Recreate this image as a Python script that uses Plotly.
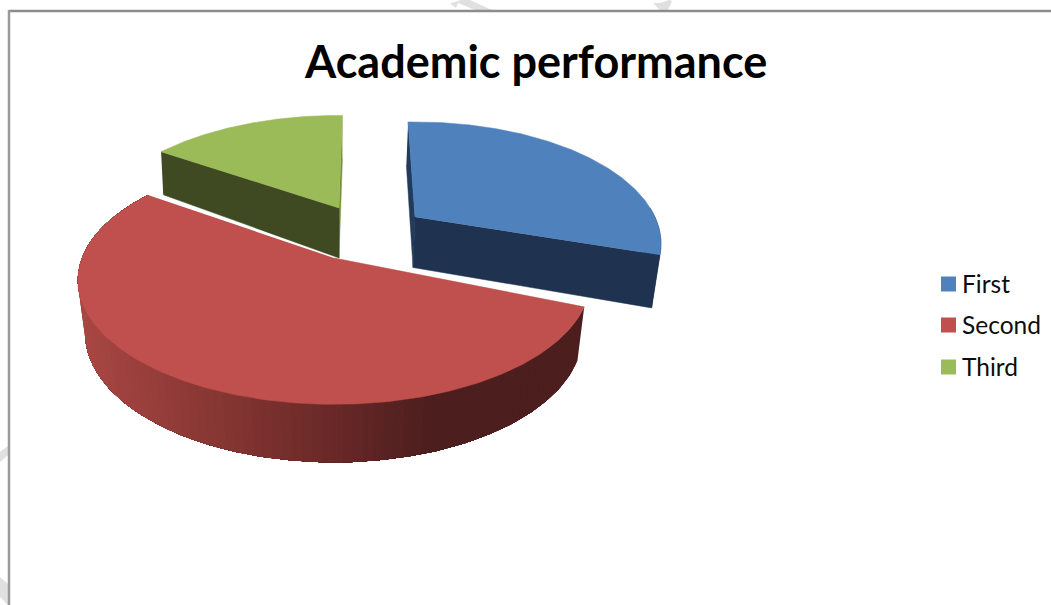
import numpy as np
import plotly.graph_objects as go

# ---- data ----
categories = ["First", "Second", "Third"]
values = [30.5, 54.5, 15.0]
title_text = "Academic performance"

# ---- style ----
top_colors = ["#4f81bd", "#c0504d", "#9bbb59"]
face_colors = ["#1f3350", "#4c1f1e", "#3f4a22"]
cut_colors = ["#223a5c", "#4c1f1e", "#76923c"]
red_stops_x = [85, 200, 330, 440, 590]
red_stops_rgb = [(168, 71, 67), (140, 57, 54), (107, 42, 41), (76, 30, 30), (76, 30, 30)]

W, H = 1051, 605
rotation = -2.0
persp = [0.22, 0.18, 0.22]
apex = [(415, 217), (334, 258), (339, 208)]
radius_x = [240, 252, 241]
radius_y = [116, 120, 113]
edge_adjust = [(0, 0), (4.5, 1.4), (0, 3)]
inward = [0.974, 0.972, 0.988]
depth_y = [153, 208, 257, 307, 404]
depth_px = [43, 50, 53, 54, 58]
watermark = [
    "M450,3.5 L461,0 L470,0 L492,10 L475,10 L458,3 L456,8 Z",
    "M653,3 L660,10 L668,10 L672,1 L669,0 L660,3 Z",
    "M0,452 L8,446 L8,455 L0,462 Z",
    "M0,577 L8,584 L8,605 L0,597 Z",
]


def project(i, ang_deg):
    a = np.radians(ang_deg)
    X, Y = np.sin(a), np.cos(a)
    w = 1 + persp[i] * Y
    return apex[i][0] + radius_x[i] * X / w, apex[i][1] - radius_y[i] * Y / w


def lower(i, x, y):
    x, y = np.asarray(x, float), np.asarray(y, float)
    return 340 + (x - 340) * inward[i], y + np.interp(y, depth_y, depth_px)


def poly(xs, ys, color, name=None, lw=0.5):
    return go.Scatter(x=list(xs), y=list(ys), mode="lines", fill="toself", fillcolor=color,
                      line=dict(color=color, width=lw), hoverinfo="skip", showlegend=False,
                      name=name)


edges = np.concatenate([[0], np.cumsum(values)]) / sum(values) * 360 + rotation
angles = [np.linspace(edges[i] + edge_adjust[i][0], edges[i + 1] + edge_adjust[i][1], 200) for i in range(3)]
arcs = [project(i, angles[i]) for i in range(3)]

fig = go.Figure()

# blue and green: cut faces
for i in (0, 2):
    ax, ay = arcs[i]
    px, py = apex[i]
    lpx, lpy = lower(i, px, py)
    k = 0 if i == 0 else -1
    j = -1 if i == 0 else 0
    lkx, lky = lower(i, ax[k], ay[k])
    fig.add_trace(poly([ax[k], px, lpx, float(lkx)], [ay[k], py, lpy, float(lky)], cut_colors[i]))
    ljx, ljy = lower(i, ax[j], ay[j])
    fig.add_trace(poly([ax[j], px, lpx, float(ljx)], [ay[j], py, lpy, float(ljy)], face_colors[i]))

# blue outer wall near its rightmost point
bx, by = arcs[0]
sel = angles[0] > 85
lbx, lby = lower(0, bx[sel], by[sel])
fig.add_trace(poly(np.r_[bx[sel], lbx[::-1]], np.r_[by[sel], lby[::-1]], face_colors[0]))

# red outer wall with its horizontal shading: each band is painted over the previous one
rx, ry = arcs[1]
lrx, lry = lower(1, rx, ry)
step = 2
for s in range(0, len(rx) - step, step):
    mid = rx[s]
    rgb = [np.interp(mid, red_stops_x, [c[n] for c in red_stops_rgb]) for n in range(3)]
    col = "rgb(%d,%d,%d)" % tuple(rgb)
    fig.add_trace(poly(np.r_[rx[s:], lrx[s:][::-1]], np.r_[ry[s:], lry[s:][::-1]], col, lw=0))

# top faces
for i in range(3):
    ax, ay = arcs[i]
    fig.add_trace(poly(np.r_[apex[i][0], ax], np.r_[apex[i][1], ay], top_colors[i], categories[i]))

# key
key_x = [948.5] * 3
key_y = [284, 325, 367]
key_text_x = 960
fig.add_trace(go.Scatter(x=key_x, y=key_y, mode="markers",
                         marker=dict(symbol="square", size=15, color=top_colors),
                         hoverinfo="skip", showlegend=False))
annotations = [dict(x=535, y=61, xref="x", yref="y", text="<b>%s</b>" % title_text, showarrow=False,
                    font=dict(family="Lato", size=45, color="#000000"))]
for name, yk in zip(categories, key_y):
    annotations.append(dict(x=key_text_x, y=yk - 1, xref="x", yref="y", text=name, showarrow=False,
                            xanchor="left", font=dict(family="Lato", size=24.5, color="#0d0d0d")))

shapes = [
    dict(type="line", x0=9, y0=11, x1=W, y1=11, line=dict(color="#8c8c8c", width=2.5), layer="above"),
    dict(type="line", x0=9, y0=10, x1=9, y1=H, line=dict(color="#9a9a9a", width=2.5), layer="above"),
]
for path in watermark:
    shapes.append(dict(type="path", path=path, fillcolor="#e0e0e0", line=dict(width=0), layer="below"))

fig.update_layout(
    width=W, height=H, autosize=False,
    margin=dict(l=0, r=0, t=0, b=0),
    paper_bgcolor="white", plot_bgcolor="white",
    xaxis=dict(range=[0, W], visible=False, fixedrange=True),
    yaxis=dict(range=[H, 0], visible=False, fixedrange=True),
    shapes=shapes,
    annotations=annotations,
    showlegend=False,
)
fig.write_html("out.html", config=dict(displayModeBar=False),
               post_script="document.body.style.margin='0';document.body.style.overflow='hidden';")
